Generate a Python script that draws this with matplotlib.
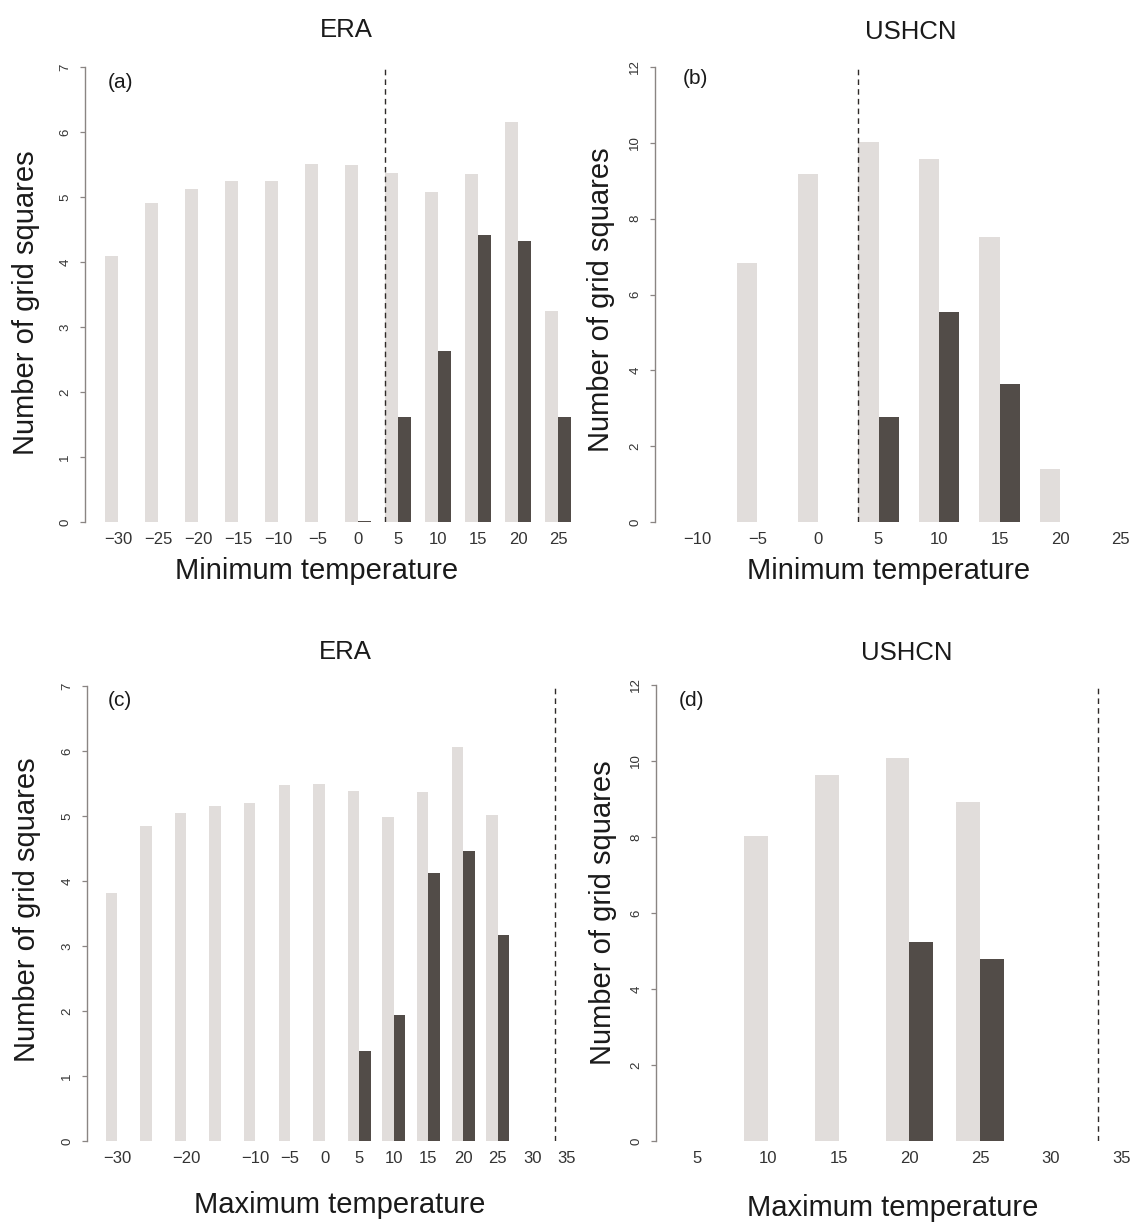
import matplotlib
matplotlib.use('Agg')
import matplotlib.pyplot as plt
import numpy as np

W, H = 1131, 1232
plt.rcParams['font.family'] = ['Liberation Sans', 'DejaVu Sans']

LIGHT = '#e1dddb'
DARK = '#524c48'
AXIS = '#8a8583'

# ---------------- data ----------------
era_min_temps = [-30, -25, -20, -15, -10, -5, 0, 5, 10, 15, 20, 25]
era_min_labels = ['\u221230', '\u221225', '\u221220', '\u221215', '\u221210', '\u22125', '0', '5', '10', '15', '20', '25']
era_min_all = [4.10, 4.91, 5.13, 5.25, 5.25, 5.51, 5.49, 5.37, 5.07, 5.35, 6.16, 3.25]
era_min_sig = [0, 0, 0, 0, 0, 0, 0.015, 1.61, 2.63, 4.41, 4.33, 1.61]
era_min_threshold = 5

ushcn_min_temps = [-10, -5, 0, 5, 10, 15, 20, 25]
ushcn_min_labels = ['\u221210', '\u22125', '0', '5', '10', '15', '20', '25']
ushcn_min_all = [0, 6.83, 9.17, 10.02, 9.58, 7.52, 1.39, 0]
ushcn_min_sig = [0, 0, 0, 2.77, 5.54, 3.64, 0, 0]
ushcn_min_threshold = 5

era_max_temps = [-30, -25, -20, -15, -10, -5, 0, 5, 10, 15, 20, 25, 30, 35]
era_max_labels = ['\u221230', '', '\u221220', '', '\u221210', '\u22125', '0', '5', '10', '15', '20', '25', '30', '35']
era_max_all = [3.82, 4.84, 5.05, 5.16, 5.20, 5.47, 5.50, 5.39, 4.99, 5.37, 6.06, 5.02, 0, 0]
era_max_sig = [0, 0, 0, 0, 0, 0, 0, 1.38, 1.94, 4.12, 4.46, 3.17, 0, 0]
era_max_threshold = 35

ushcn_max_temps = [5, 10, 15, 20, 25, 30, 35]
ushcn_max_labels = ['5', '10', '15', '20', '25', '30', '35']
ushcn_max_all = [0, 8.03, 9.64, 10.08, 8.93, 0, 0]
ushcn_max_sig = [0, 0, 0, 5.24, 4.79, 0, 0]
ushcn_max_threshold = 35

era_yticks = [0, 1, 2, 3, 4, 5, 6, 7]
ushcn_yticks = [0, 2, 4, 6, 8, 10, 12]

fig = plt.figure(figsize=(W / 100, H / 100), dpi=100)
fig.patch.set_facecolor('white')


def ftext(x, y, s, **kw):
    fig.text(x / W, 1 - y / H, s, ha='center', va='center', **kw)


def panel(box, trange, ymax, yticks, temps, labels, all_vals, sig_vals, threshold):
    left, right, top, bottom = box
    ax = fig.add_axes([left / W, 1 - bottom / H, (right - left) / W, (bottom - top) / H])
    w = 5 / 3
    t = np.array(temps, dtype=float)
    ax.bar(t - w / 2, all_vals, width=w, color=LIGHT, edgecolor='none', linewidth=0)
    ax.bar(t + w / 2, sig_vals, width=w, color=DARK, edgecolor='none', linewidth=0)
    ax.axvline(threshold - w, color='#2e2a28', lw=1.0, linestyle=(0, (4, 3)))
    ax.set_xlim(*trange)
    ax.set_ylim(0, ymax)
    for s in ['top', 'right', 'bottom']:
        ax.spines[s].set_visible(False)
    ax.spines['left'].set_color(AXIS)
    ax.spines['left'].set_linewidth(1.0)
    ax.set_xticks(temps)
    ax.set_xticklabels(labels)
    ax.tick_params(axis='x', length=0, pad=7, labelsize=12, labelcolor='#333333')
    ax.set_yticks(yticks)
    ax.set_yticklabels([str(v) for v in yticks])
    ax.tick_params(axis='y', length=3.6, width=0.9, color=AXIS, labelsize=9.5,
                   labelcolor='#333333', pad=10.5)
    for lab in ax.get_yticklabels():
        lab.set_rotation(90)
        lab.set_ha('center')
        lab.set_va('center')
    ax.patch.set_alpha(0)
    return ax


panel((85, 575, 67, 522), (-34.125, 27.125), 7, era_yticks, era_min_temps, era_min_labels,
      era_min_all, era_min_sig, era_min_threshold)
panel((655, 1125, 67, 522), (-13.47, 25.37), 12, ushcn_yticks, ushcn_min_temps, ushcn_min_labels,
      ushcn_min_all, ushcn_min_sig, ushcn_min_threshold)
panel((87, 580, 686, 1141), (-34.34, 36.9), 7, era_yticks, era_max_temps, era_max_labels,
      era_max_all, era_max_sig, era_max_threshold)
panel((656, 1125, 685, 1141), (2.10, 35.25), 12, ushcn_yticks, ushcn_max_temps, ushcn_max_labels,
      ushcn_max_all, ushcn_max_sig, ushcn_max_threshold)

# titles
ftext(346, 30, 'ERA', fontsize=18.5, color='#1a1a1a')
ftext(911, 32, 'USHCN', fontsize=18.5, color='#1a1a1a')
ftext(345, 652, 'ERA', fontsize=18.5, color='#1a1a1a')
ftext(907, 653, 'USHCN', fontsize=18.5, color='#1a1a1a')

# x labels
ftext(317, 571, 'Minimum temperature', fontsize=21, color='#1a1a1a')
ftext(889, 571, 'Minimum temperature', fontsize=21, color='#1a1a1a')
ftext(340, 1205, 'Maximum temperature', fontsize=21, color='#1a1a1a')
ftext(893, 1208, 'Maximum temperature', fontsize=21, color='#1a1a1a')

# y labels
ftext(26, 303, 'Number of grid squares', fontsize=21, rotation=90, color='#1a1a1a')
ftext(601, 300, 'Number of grid squares', fontsize=21, rotation=90, color='#1a1a1a')
ftext(27, 910, 'Number of grid squares', fontsize=21, rotation=90, color='#1a1a1a')
ftext(603, 913, 'Number of grid squares', fontsize=21, rotation=90, color='#1a1a1a')

# panel letters
ftext(121, 83, '(a)', fontsize=15, color='#1a1a1a')
ftext(695, 78, '(b)', fontsize=15, color='#1a1a1a')
ftext(120, 701, '(c)', fontsize=15, color='#1a1a1a')
ftext(692, 701, '(d)', fontsize=15, color='#1a1a1a')

fig.savefig('out.png', dpi=100, facecolor='white')
